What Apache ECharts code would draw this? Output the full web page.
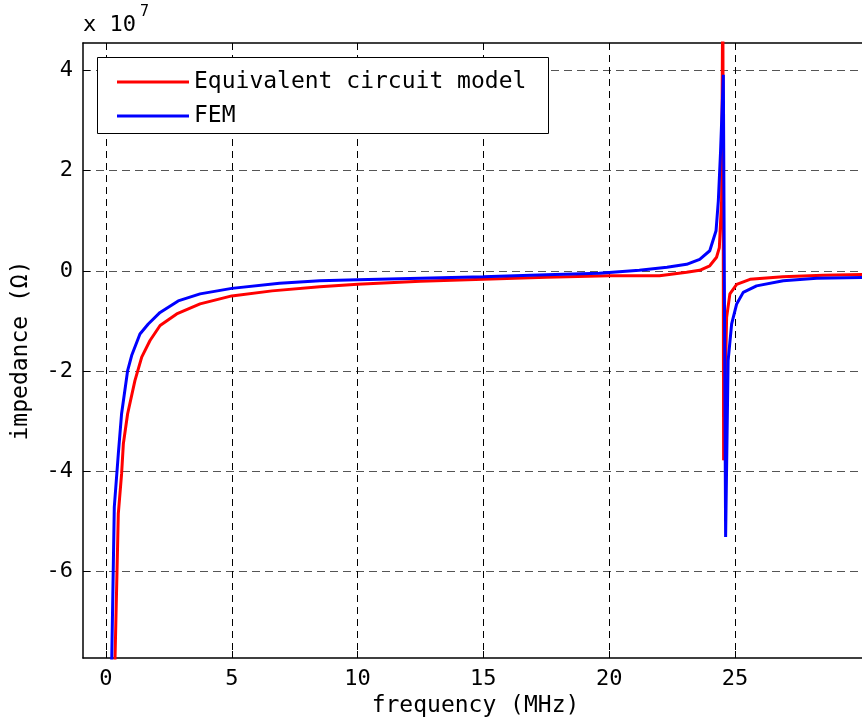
<!DOCTYPE html>
<html>
<head>
<meta charset="utf-8">
<script src="https://cdn.jsdelivr.net/npm/echarts@6/dist/echarts.min.js"></script>
<style>html,body{margin:0;padding:0;background:#fff}#c{width:862px;height:720px}</style>
</head>
<body>
<div id="c"></div>
<script>
// values in units of 1e7 ohm
var redFreq = [0.32, 0.49, 0.62, 0.69, 0.86, 1.15, 1.42, 1.75, 2.15, 2.81, 3.74, 5.0, 6.6, 8.5, 10, 12.5, 15, 17.5, 20, 22, 23.08, 23.6, 24.0, 24.27, 24.38, 24.47, 24.52, 24.55, 24.67, 24.8, 25.07, 25.6, 26.9, 28.5, 30.3];
var redImp  = [-8.6, -4.84, -4.05, -3.45, -2.85, -2.19, -1.72, -1.39, -1.09, -0.86, -0.66, -0.50, -0.40, -0.32, -0.27, -0.21, -0.17, -0.13, -0.10, -0.10, -0.03, 0.01, 0.10, 0.27, 0.46, 1.39, 6.0, -3.78, -0.93, -0.46, -0.27, -0.17, -0.12, -0.09, -0.07];
var blueFreq = [0.20, 0.33, 0.49, 0.62, 0.86, 1.02, 1.35, 1.68, 2.15, 2.87, 3.74, 5.0, 6.9, 8.5, 10, 12.5, 15, 17.5, 19.6, 21.2, 22.3, 23.08, 23.6, 24.0, 24.25, 24.34, 24.43, 24.54, 24.63, 24.73, 24.87, 25.07, 25.33, 25.86, 26.92, 28.25, 30.3];
var blueImp  = [-8.6, -4.71, -3.65, -2.85, -1.99, -1.69, -1.26, -1.06, -0.83, -0.60, -0.46, -0.35, -0.25, -0.20, -0.18, -0.15, -0.12, -0.08, -0.05, 0.01, 0.07, 0.13, 0.23, 0.40, 0.80, 1.39, 2.39, 3.91, -5.31, -1.79, -1.06, -0.66, -0.43, -0.30, -0.20, -0.15, -0.13];
var xTicks = [0, 5, 10, 15, 20, 25];
var yTicks = [-6, -4, -2, 0, 2, 4];
var seriesNames = ['Equivalent circuit model', 'FEM'];

function pairs(xs, ys) { return xs.map(function (x, i) { return [x, ys[i]]; }); }

var FONT = 'DejaVu Sans Mono';
var chart = echarts.init(document.getElementById('c'));
chart.setOption({
  animation: false,
  backgroundColor: '#fff',
  grid: { left: 83, top: 43, width: 785, height: 615, containLabel: false, outerBoundsMode: 'none' },
  xAxis: [{
    type: 'value', min: -0.914, max: 30.29, position: 'bottom',
    axisLine: { show: true, onZero: false, lineStyle: { color: '#000', width: 1.5 } },
    axisTick: { show: true, inside: true, length: 7, customValues: xTicks, lineStyle: { color: '#000' } },
    axisLabel: { customValues: xTicks, color: '#000', fontFamily: FONT, fontSize: 22, margin: 10 },
    splitLine: { show: true, lineStyle: { type: [7, 5], color: '#000', width: 1 } },
    name: 'frequency (MHz)', nameLocation: 'middle', nameGap: 36,
    nameTextStyle: { color: '#000', fontFamily: FONT, fontSize: 23 }
  }, {
    type: 'value', min: -0.914, max: 30.29, position: 'top',
    axisLine: { show: true, onZero: false, lineStyle: { color: '#000', width: 1.5 } },
    axisTick: { show: true, inside: true, length: 7, customValues: xTicks, lineStyle: { color: '#000' } },
    axisLabel: { show: false },
    splitLine: { show: false }
  }],
  yAxis: {
    type: 'value', min: -7.721, max: 4.543,
    axisLine: { show: true, onZero: false, lineStyle: { color: '#000', width: 1.5 } },
    axisTick: { show: true, inside: true, length: 7, customValues: yTicks, lineStyle: { color: '#000' } },
    axisLabel: { customValues: yTicks, color: '#000', fontFamily: FONT, fontSize: 22, margin: 10 },
    splitLine: { show: true, lineStyle: { type: [8, 5], color: '#555', width: 1 } },
    name: 'impedance (\u03A9)', nameLocation: 'middle', nameGap: 50, nameRotate: 90,
    nameTextStyle: { color: '#000', fontFamily: FONT, fontSize: 23 }
  },
  legend: {
    orient: 'vertical', left: 112, top: 65, z: 20,
    data: seriesNames,
    icon: 'rect', itemWidth: 72, itemHeight: 3, itemGap: 10,
    textStyle: { color: '#000', fontFamily: FONT, fontSize: 23, lineHeight: 24 }
  },
  graphic: [
    { type: 'rect', left: 97, top: 57, z: 5, silent: true,
      shape: { width: 451, height: 76 },
      style: { fill: '#fff', stroke: '#000', lineWidth: 1 } },
    { type: 'text', left: 83, top: 14, z: 60,
      style: { text: 'x 10', fill: '#000', font: '22px "DejaVu Sans Mono"' } },
    { type: 'text', left: 140, top: 5, z: 60,
      style: { text: '7', fill: '#000', font: '15px "DejaVu Sans Mono"' } }
  ],
  series: [{
    name: seriesNames[0], type: 'line', data: pairs(redFreq, redImp),
    showSymbol: false, symbol: 'none', clip: true,
    lineStyle: { color: '#ff0000', width: 3 }, itemStyle: { color: '#ff0000' }
  }, {
    name: seriesNames[1], type: 'line', data: pairs(blueFreq, blueImp),
    showSymbol: false, symbol: 'none', clip: true,
    lineStyle: { color: '#0000ff', width: 3 }, itemStyle: { color: '#0000ff' }
  }]
});
</script>
</body>
</html>
